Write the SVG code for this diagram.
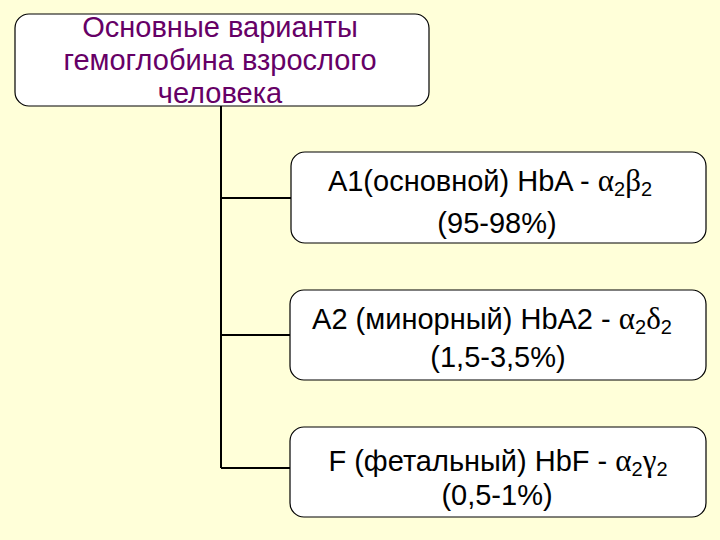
<svg xmlns="http://www.w3.org/2000/svg" width="720" height="540" viewBox="0 0 720 540">
<style>
.box{fill:#ffffff;stroke:#000000;stroke-width:1.2}
.t{font-family:"Liberation Sans",Arial,sans-serif;font-size:29px;fill:#000000;text-anchor:middle}
.h{font-family:"Liberation Sans",Arial,sans-serif;font-size:29px;fill:#660066;text-anchor:middle}
.g{font-family:"Liberation Serif","Times New Roman",serif;font-size:31px}
.sub{font-size:20px}
.conn{stroke:#000000;stroke-width:2;fill:none}
</style>
<rect width="720" height="540" fill="#ffffd9"/>
<g id="connectors">
<path class="conn" d="M221,106 V468 M221,198 H291 M221,335 H290 M221,468 H290"/>
</g>
<g id="root">
<rect class="box" x="15" y="14" width="414" height="92" rx="14"/>
<text class="h" x="220" y="37">Основные варианты</text>
<text class="h" x="220" y="70">гемоглобина взрослого</text>
<text class="h" x="220" y="103">человека</text>
</g>
<g id="hba">
<rect class="box" x="291" y="152" width="415" height="91" rx="14"/>
<text class="t" x="490" y="191">A1(основной) HbA - <tspan class="g">α</tspan><tspan class="sub" dy="5">2</tspan><tspan class="g" dy="-5">β</tspan><tspan class="sub" dy="5">2</tspan></text>
<text class="t" x="497" y="233">(95-98%)</text>
</g>
<g id="hba2">
<rect class="box" x="290" y="290" width="416" height="90" rx="14"/>
<text class="t" x="492" y="329">A2 (минорный) HbA2 - <tspan class="g">α</tspan><tspan class="sub" dy="5">2</tspan><tspan class="g" dy="-5">δ</tspan><tspan class="sub" dy="5">2</tspan></text>
<text class="t" x="498" y="367">(1,5-3,5%)</text>
</g>
<g id="hbf">
<rect class="box" x="290" y="427" width="416" height="90" rx="14"/>
<text class="t" x="498" y="471">F (фетальный) HbF - <tspan class="g">α</tspan><tspan class="sub" dy="5">2</tspan><tspan class="g" dy="-5">γ</tspan><tspan class="sub" dy="5">2</tspan></text>
<text class="t" x="497" y="505">(0,5-1%)</text>
</g>
</svg>
